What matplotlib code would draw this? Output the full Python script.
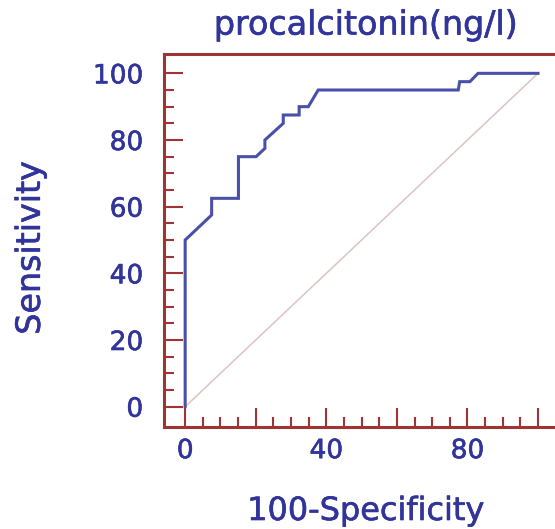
import matplotlib
matplotlib.use('Agg')
from matplotlib import pyplot as plt
from matplotlib.ticker import FixedLocator
import matplotlib.patheffects as pe

# ROC curve (100-Specificity, Sensitivity)
fpr = [0, 0, 7.5, 7.5, 15.1, 15.1, 20.1, 22.6, 22.6, 27.8, 27.8, 32.3, 32.3, 34.9,
       37.7, 77.4, 77.8, 80.7, 83.0, 100]
tpr = [0, 50, 57.5, 62.5, 62.5, 75, 75, 77.5, 80, 85, 87.5, 87.5, 90, 90,
       95, 95, 97.5, 97.5, 100, 100]
ref_line = [0, 100]

xticks = [0, 20, 40, 60, 80, 100]
xticklabels = ['0', '', '40', '', '80', '']
yticks = [0, 20, 40, 60, 80, 100]
yticklabels = ['0', '20', '40', '60', '80', '100']
minor = list(range(0, 101, 5))

blue = '#31349a'
red = '#a03434'
thick = [pe.withStroke(linewidth=0.45, foreground=blue)]

fig = plt.figure(figsize=(5.55, 5.29), dpi=100)
ax = fig.add_axes([164/555, 1-427/529, (568-164)/555, (427-54)/529])

ax.plot(ref_line, ref_line, color='#dcc4c4', lw=1.1)
ax.plot(fpr, tpr, color='#4a50a8', lw=2.2, solid_joinstyle='miter')

ax.set_xlim(-6, 108.5)
ax.set_ylim(-6.1, 105.8)

ax.set_xticks(xticks)
ax.set_xticklabels(xticklabels)
ax.set_yticks(yticks)
ax.set_yticklabels(yticklabels)
ax.xaxis.set_minor_locator(FixedLocator(minor))
ax.yaxis.set_minor_locator(FixedLocator(minor))

for s in ['left', 'bottom', 'top']:
    ax.spines[s].set_color(red)
    ax.spines[s].set_linewidth(2.2)
ax.spines['right'].set_visible(False)

ax.tick_params(which='major', direction='in', length=13.5, width=1.5, color=red,
               labelcolor=blue, labelsize=19)
ax.tick_params(axis='y', which='major', pad=15)
ax.tick_params(axis='x', which='major', pad=8)
ax.tick_params(which='minor', direction='in', length=7, width=1.5, color=red)
for t in ax.get_xticklabels() + ax.get_yticklabels():
    t.set_path_effects(thick)

ax.set_title('procalcitonin(ng/l)', color=blue, fontsize=24, pad=14,
             path_effects=thick)
ax.set_xlabel('100-Specificity', color=blue, fontsize=23, path_effects=thick)
ax.set_ylabel('Sensitivity', color=blue, fontsize=24, path_effects=thick)
ax.xaxis.set_label_coords(0.5, -0.185)
ax.yaxis.set_label_coords(-0.29, 0.48)

fig.savefig('out.png', dpi=100)
